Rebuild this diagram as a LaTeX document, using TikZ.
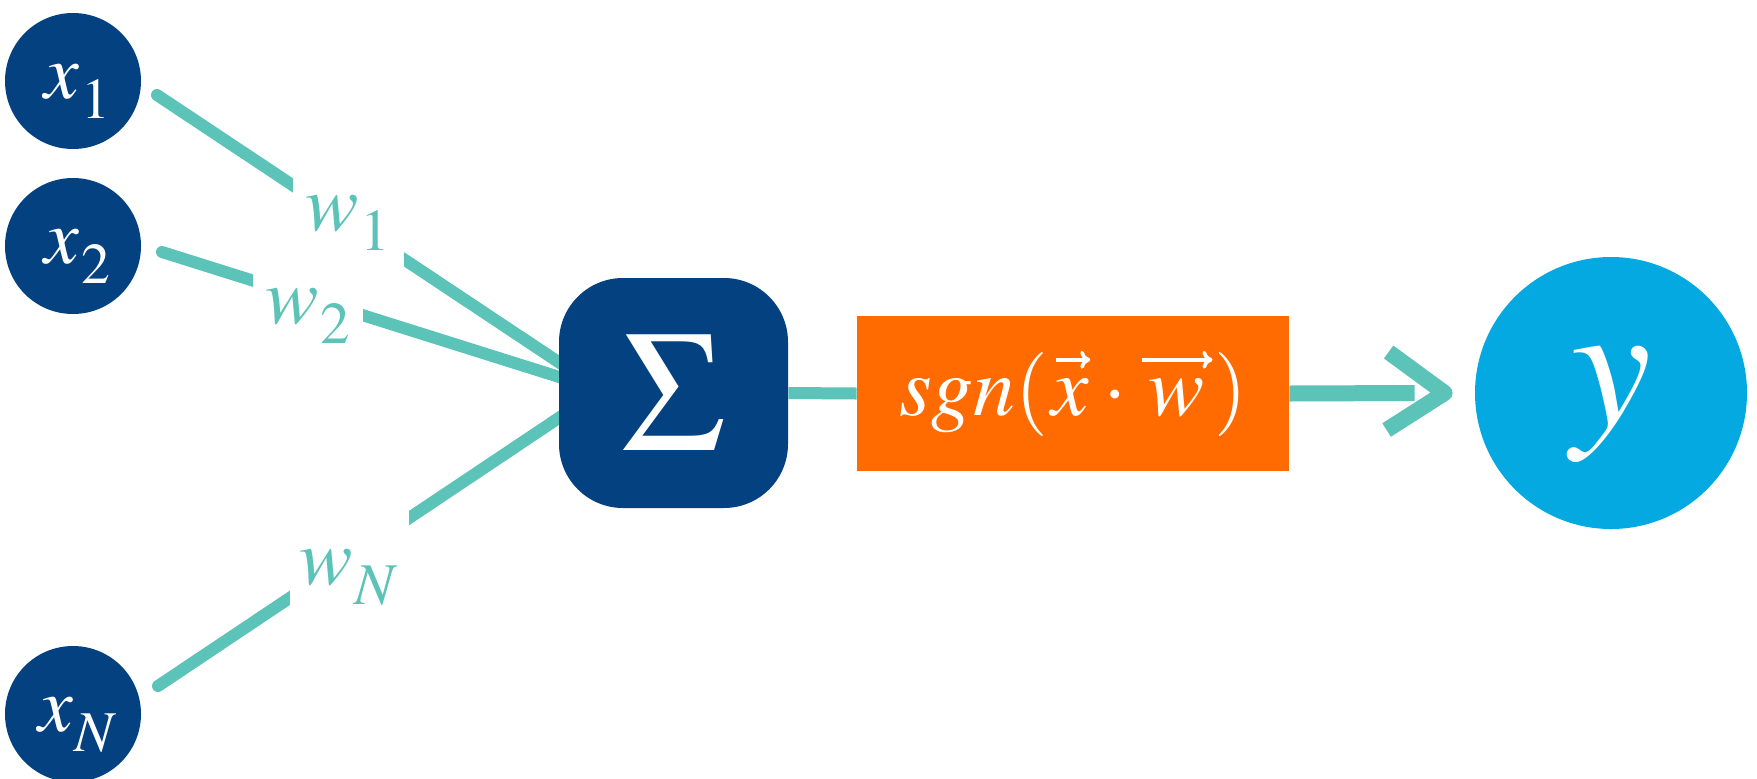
\documentclass[tikz,border=0pt]{standalone}
\usepackage{mathptmx}
\usetikzlibrary{calc,arrows.meta}
\definecolor{navyc}{RGB}{3,65,128}
\definecolor{tealc}{RGB}{91,195,184}
\definecolor{skyb}{RGB}{3,169,224}
\definecolor{orng}{RGB}{255,107,0}
\pgfdeclarelayer{bg}
\pgfsetlayers{bg,main}
\newcommand\lowsub[1]{_{\kern1pt\smash{\lower4pt\hbox{$\scriptstyle #1$}}}}
% letter with a vector arrow over it: #1 letter, #2 arrow length, #3 right shift of arrow
\newcommand\arrowover[3]{\mathord{\vbox{\offinterlineskip\ialign{\hfil##\hfil\cr
  \hbox{\kern#3\tikz\draw[white,line width=1.8pt,-{To[length=5pt,width=9pt]}] (0pt,0pt) -- (#2,0pt);}\cr
  \noalign{\kern5pt}\hbox{$#1$}\cr}}}}
\begin{document}
\begin{tikzpicture}[x=0.5pt,y=-0.5pt,
  inp/.style={circle,fill=navyc,text=white,minimum size=68pt,inner sep=0pt,
              text height=17.5pt,text depth=0pt,font=\fontsize{39}{42}\selectfont},
  wlab/.style={fill=white,text=tealc,inner sep=0pt,
              text height=18pt,text depth=0pt,font=\fontsize{40}{44}\selectfont},
  conn/.style={draw=tealc,line width=6pt,line cap=round},
  thick conn/.style={draw=tealc,line width=8pt},
]
\useasboundingbox (0,0) rectangle (1757,778);

% input nodes
\node[inp] (x1) at (73,81) {\kern5pt$x\lowsub{1}$};
\node[inp] (x2) at (73,246) {\kern5pt$x\lowsub{2}$};
\node[inp] (xN) at (73,714) {\kern5pt$x\lowsub{N}$};

% summation, activation, output
\node[fill=navyc,rounded corners=32pt,minimum width=114.5pt,minimum height=115pt,inner sep=0pt,
      text=white,font=\fontsize{86}{90}\selectfont] (sig) at (673.5,393) {$\Sigma$};
\node[fill=orng,minimum width=216pt,minimum height=77.5pt,inner sep=0pt,
      text=white,font=\fontsize{42}{46}\selectfont] (org) at (1073,393.5)
      {$sgn(\arrowover{x}{17pt}{3pt}\cdot\arrowover{w}{35pt}{1pt})$};
\node[circle,fill=skyb,minimum size=136pt,inner sep=0pt,text height=32pt,text depth=0pt,
      text=white,font=\fontsize{90}{94}\selectfont] (yout) at (1611,393) {$y$};

% connector ends
\coordinate (s1) at ($(x1)+(84,14)$);
\coordinate (s2) at ($(x2)+(89,6)$);
\coordinate (sN) at ($(xN)+(85,-28)$);
\coordinate (hub) at ($(sig.center)+(-73,-3)$);

\begin{pgfonlayer}{bg}
\draw[conn] (s1) -- (hub);
\node[wlab,minimum width=55.5pt,minimum height=55pt] (w1) at (348,212) {$w\lowsub{1}$};
\draw[conn] (s2) -- (hub);
\node[wlab,minimum width=55pt,minimum height=40pt] (w2) at (308,305) {$w\lowsub{2}$};
\draw[conn] (sN) -- (hub);
\node[wlab,minimum width=59.5pt,minimum height=75pt] (wN) at (349,566) {$w\lowsub{N}$};
\end{pgfonlayer}

% sum -> activation
\draw[draw=tealc,line width=6pt] (sig.east) -- (org.west);

% activation -> output, brush-like arrow
\coordinate (shaftend) at ($(yout.west)+(-60,0)$);
\coordinate (tip) at ($(yout.west)+(-30,0)$);
\coordinate (armup) at ($(yout.west)+(-86,-41)$);
\coordinate (armdn) at ($(yout.west)+(-88,37)$);
\draw[thick conn] (org.east) -- (shaftend);
\draw[thick conn,line join=round] (armup) -- (tip) -- (armdn);
\end{tikzpicture}
\end{document}
